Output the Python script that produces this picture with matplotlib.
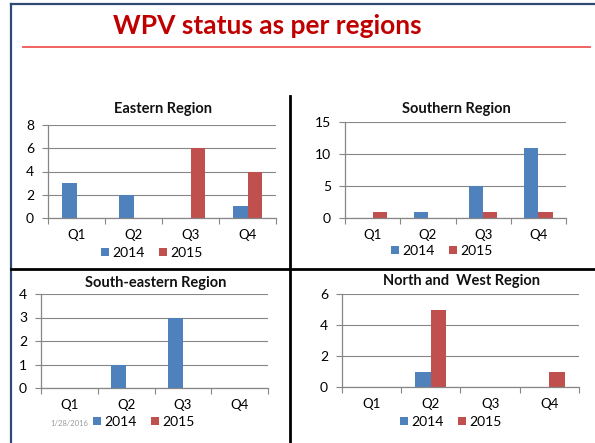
import numpy as np
from matplotlib import pyplot as plt
from matplotlib.lines import Line2D

plt.rcParams['font.family'] = ['Lato', 'DejaVu Sans']

W, H = 595, 443

quarters = ['Q1', 'Q2', 'Q3', 'Q4']
years = ['2014', '2015']

eastern_2014 = [3, 2, 0, 1]
eastern_2015 = [0, 0, 6, 4]
southern_2014 = [0, 1, 5, 11]
southern_2015 = [1, 0, 1, 1]
southeast_2014 = [0, 1, 3, 0]
southeast_2015 = [0, 0, 0, 0]
northwest_2014 = [0, 1, 0, 0]
northwest_2015 = [0, 5, 0, 1]

azul = '#4F81BD'
vermelho = '#C0504D'
cinza = '#868686'

# (titulo, serie 2014, serie 2015, yticks, caixa em px: esq, dir, topo, base, centro legenda, y legenda, y titulo)
paineis = [
    ('Eastern Region', eastern_2014, eastern_2015, [0, 2, 4, 6, 8],
     (48, 276, 125, 218), 152, 253, 109),
    ('Southern Region', southern_2014, southern_2015, [0, 5, 10, 15],
     (345, 566, 122, 218), 442, 251, 109),
    ('South-eastern Region', southeast_2014, southeast_2015, [0, 1, 2, 3, 4],
     (41, 268, 294, 388), 144, 422, 283),
    ('North and  West Region', northwest_2014, northwest_2015, [0, 2, 4, 6],
     (342, 579, 294, 387), 451, 422, 281),
]

fig = plt.figure(figsize=(W / 100, H / 100), dpi=100)

# molduras e divisorias
def linha_px(x0, y0, x1, y1, **kw):
    fig.add_artist(Line2D([x0 / W, x1 / W], [1 - y0 / H, 1 - y1 / H],
                          transform=fig.transFigure, **kw))

linha_px(10.5, 4, 595, 4, color='#2E4A74', lw=1.6)
linha_px(10.5, 4, 10.5, 443, color='#2E4A74', lw=1.6)
linha_px(23, 46.8, 590, 46.8, color='#F05555', lw=1.3)
linha_px(289.5, 96, 289.5, 443, color='black', lw=2)
linha_px(10.5, 268.5, 595, 268.5, color='black', lw=2)

fig.text(267 / W, 1 - 26 / H, 'WPV status as per regions', ha='center', va='center',
         color='#C00000', fontsize=19, fontweight='bold')

w = 0.26
x = np.arange(4) + 0.5
for titulo, s14, s15, yt, (l, r, t, b), lx, ly, ty in paineis:
    ax = fig.add_axes([l / W, 1 - b / H, (r - l) / W, (b - t) / H])
    ax.bar(x - w / 2, s14, w, color=azul, label=years[0], zorder=3)
    ax.bar(x + w / 2, s15, w, color=vermelho, label=years[1], zorder=3)
    ax.set_xlim(0, 4)
    ax.set_ylim(yt[0], yt[-1])
    ax.set_yticks(yt)
    ax.set_xticks(np.arange(5))
    ax.set_xticklabels([])
    ax.set_xticks(x, minor=True)
    ax.set_xticklabels(quarters, minor=True)
    ax.tick_params(axis='x', which='major', length=4, width=0.8, color=cinza, direction='out')
    ax.tick_params(axis='x', which='minor', length=0, labelsize=9.5, pad=8)
    ax.tick_params(axis='y', length=4, width=0.8, color=cinza, labelsize=10, pad=6)
    ax.grid(axis='y', color=cinza, lw=0.8, zorder=0)
    for lado in ['top', 'right']:
        ax.spines[lado].set_visible(False)
    for lado in ['left', 'bottom']:
        ax.spines[lado].set_color(cinza)
        ax.spines[lado].set_linewidth(0.9)
        ax.spines[lado].set_zorder(4)
    fig.text(((l + r) / 2 + 1) / W, 1 - ty / H, titulo, ha='center', va='center',
             fontsize=10.5, fontweight='bold', color='#111111')
    ax.legend(loc='center', bbox_to_anchor=(lx / W, 1 - ly / H), bbox_transform=fig.transFigure,
              ncol=2, frameon=False, fontsize=10, handlelength=0.55, handleheight=0.55,
              handletextpad=0.3, columnspacing=1.0, borderpad=0, borderaxespad=0)

fig.text(69 / W, 1 - 423 / H, '1/28/2016', ha='center', va='center', fontsize=5.5, color='#9A9A9A')

plt.savefig('out.png', dpi=100)
